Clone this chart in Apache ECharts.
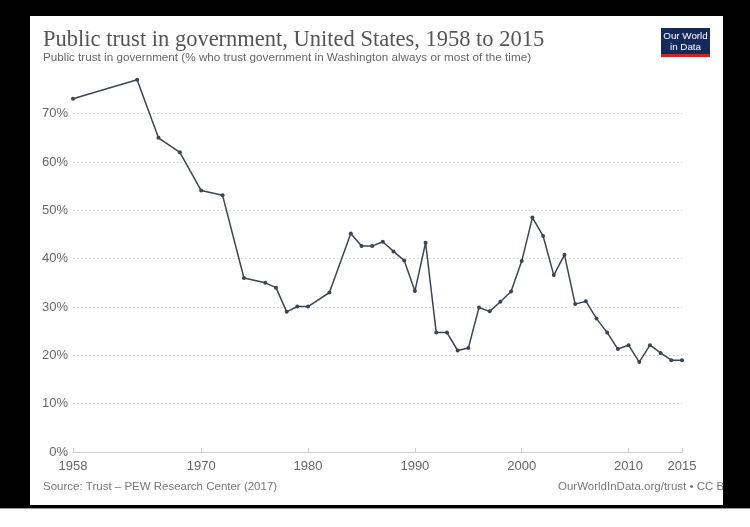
<!DOCTYPE html>
<html>
<head>
<meta charset="utf-8">
<script src="https://cdn.jsdelivr.net/npm/echarts@6/dist/echarts.min.js"></script>
<style>html,body{margin:0;padding:0;background:#000;}#c{width:750px;height:527px;}</style>
</head>
<body>
<div id="c"></div>
<script>
var years = [1958,1964,1966,1968,1970,1972,1974,1976,1977,1978,1979,1980,1982,1984,1985,1986,1987,1988,1989,1990,1991,1992,1993,1994,1995,1996,1997,1998,1999,2000,2001,2002,2003,2004,2005,2006,2007,2008,2009,2010,2011,2012,2013,2014,2015];
var trust = [73.1,77,65,62,54.1,53.1,36,35,34,29,30.1,30.1,33,45.2,42.6,42.6,43.5,41.5,39.6,33.3,43.3,24.7,24.7,21,21.5,29.9,29.1,31.1,33.2,39.5,48.5,44.7,36.6,40.8,30.6,31.2,27.6,24.7,21.3,22.1,18.6,22.1,20.5,19,19];
var xTicks = [1958,1970,1980,1990,2000,2010,2015];
var yTicks = [0,10,20,30,40,50,60,70];
var title = 'Public trust in government, United States, 1958 to 2015';
var subtitle = 'Public trust in government (% who trust government in Washington always or most of the time)';
var source = 'Source: Trust – PEW Research Center (2017)';
var credit = 'OurWorldInData.org/trust • CC BY';

var chart = echarts.init(document.getElementById('c'), null, {renderer:'canvas'});
var sans = '"Liberation Sans", Arial, sans-serif';
chart.setOption({
  backgroundColor: '#000',
  animation: false,
  grid: {left: 73, right: 68, top: 75, bottom: 75, containLabel: false},
  xAxis: {
    type: 'value', min: 1958, max: 2015,
    axisLine: {show: true, lineStyle: {color: '#ccc', width: 1}},
    axisTick: {show: true, inside: true, length: 4, lineStyle: {color: '#ccc'}, customValues: xTicks},
    axisLabel: {customValues: xTicks, color: '#666', fontSize: 13, fontFamily: sans, margin: 8, formatter: function(v){return String(v);}},
    splitLine: {show: false}
  },
  yAxis: {
    type: 'value', min: 0, max: 78, interval: 10,
    axisLine: {show: false}, axisTick: {show: false},
    axisLabel: {color: '#666', fontSize: 13, fontFamily: sans, margin: 5, showMaxLabel: false,
      formatter: function(v){ return yTicks.indexOf(v) >= 0 ? v + '%' : ''; }, padding: [0,0,4,0]},
    splitLine: {show: true, showMinLine: false, showMaxLine: false, lineStyle: {color: '#cfcfcf', type: [1.5,2.5], width: 1}}
  },
  series: [{
    type: 'line',
    data: years.map(function(y, i){ return [y, trust[i]]; }),
    symbol: 'circle', symbolSize: 4,
    lineStyle: {color: '#3d4454', width: 1.5},
    itemStyle: {color: '#3d4454'},
    z: 5
  }],
  graphic: [
    {type: 'rect', z: -10, shape: {x: 30, y: 16, width: 693, height: 489}, style: {fill: '#fff'}, silent: true},
    {type: 'rect', z: -10, shape: {x: 0, y: 509, width: 750, height: 18}, style: {fill: '#fff'}, silent: true},
    {type: 'rect', z: -10, shape: {x: 0, y: 508, width: 750, height: 1}, style: {fill: '#999'}, silent: true},
    {type: 'text', left: 43, top: 29, style: {text: title, fill: '#555', font: '400 22.5px "Liberation Serif", "DejaVu Serif", serif'}},
    {type: 'text', left: 43, top: 52, style: {text: subtitle, fill: '#666', font: '11.7px ' + sans}},
    {type: 'text', left: 43, top: 481, style: {text: source, fill: '#777', font: '11.5px ' + sans}},
    {type: 'text', left: 558, top: 481, z: 10, style: {text: credit, fill: '#777', font: '11.5px ' + sans}},
    {type: 'rect', z: 20, shape: {x: 723, y: 0, width: 27, height: 508}, style: {fill: '#000'}, silent: true},
    {type: 'rect', z: 10, shape: {x: 661, y: 28, width: 49, height: 27}, style: {fill: '#15295a'}},
    {type: 'rect', z: 10, shape: {x: 661, y: 54, width: 49, height: 3}, style: {fill: '#ce261e'}},
    {type: 'text', z: 11, x: 685.5, y: 36.5, style: {text: 'Our World', fill: '#fff', font: '9.8px ' + sans, align: 'center', verticalAlign: 'middle'}},
    {type: 'text', z: 11, x: 685.5, y: 47, style: {text: 'in Data', fill: '#fff', font: '9.8px ' + sans, align: 'center', verticalAlign: 'middle'}}
  ]
});
</script>
</body>
</html>
